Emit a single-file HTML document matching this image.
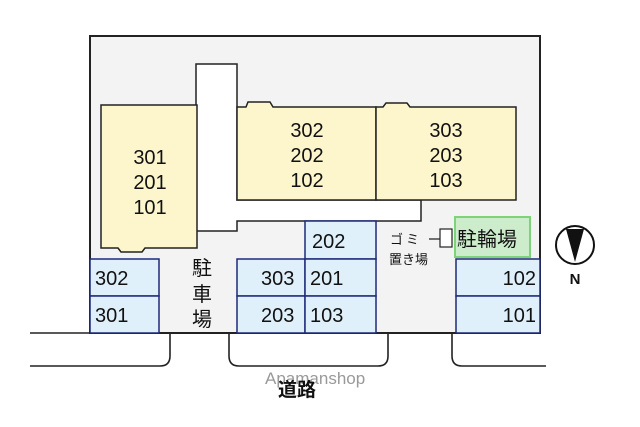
<!DOCTYPE html>
<html><head><meta charset="utf-8"><style>
html,body{margin:0;padding:0;background:#fff;width:640px;height:427px;overflow:hidden}
svg{display:block}
text{font-family:"Liberation Sans","Noto Sans CJK JP",sans-serif;fill:#111}
</style></head><body>
<svg width="640" height="427" viewBox="0 0 640 427" xmlns="http://www.w3.org/2000/svg">
<rect x="90" y="36" width="450" height="297" fill="#f3f3f3" stroke="#222" stroke-width="2"/>
<path d="M196 64 H237 V200 H421 V221 H237 V231 H196 Z" fill="#fff" stroke="#222" stroke-width="1.5"/>
<path d="M101 105 H197 V248 H145 L142 252 H121 L118 248 H101 Z" fill="#fdf6cc" stroke="#222" stroke-width="1.5"/>
<path d="M237 107 H246 L248 102 H270 L273 107 H376 V200 H237 Z" fill="#fdf6cc" stroke="#222" stroke-width="1.5"/>
<path d="M376 107 H383 L386 103 H407 L410 107 H516 V200 H376 Z" fill="#fdf6cc" stroke="#222" stroke-width="1.5"/>
<g font-size="20" text-anchor="middle">
<text x="150" y="164">301</text><text x="150" y="189">201</text><text x="150" y="214">101</text>
<text x="307" y="137">302</text><text x="307" y="162">202</text><text x="307" y="187">102</text>
<text x="446" y="137">303</text><text x="446" y="162">203</text><text x="446" y="187">103</text>
</g>
<g fill="#dff0fb" stroke="#1e2a7a" stroke-width="1.5">
<rect x="90" y="259" width="69" height="37"/><rect x="90" y="296" width="69" height="37"/>
<rect x="237" y="259" width="68" height="37"/><rect x="237" y="296" width="68" height="37"/>
<rect x="305" y="221" width="71" height="38"/><rect x="305" y="259" width="71" height="37"/><rect x="305" y="296" width="71" height="37"/>
<rect x="456" y="259" width="84" height="37"/><rect x="456" y="296" width="84" height="37"/>
</g>
<rect x="455" y="217" width="75" height="40" fill="#cdeccb" stroke="#7ed27a" stroke-width="2"/>
<g font-size="20">
<text x="95" y="285">302</text><text x="95" y="322">301</text>
<text x="261" y="285">303</text><text x="261" y="322">203</text>
<text x="312" y="248">202</text><text x="310" y="285">201</text><text x="310" y="322">103</text>
<text x="536" y="285" text-anchor="end">102</text><text x="536" y="322" text-anchor="end">101</text>
<text x="457" y="246">駐輪場</text>
</g>
<g font-size="20" text-anchor="middle"><text x="202" y="275">駐</text><text x="202" y="301">車</text><text x="202" y="326">場</text></g>
<text x="390" y="244" font-size="13" letter-spacing="3">ゴミ</text>
<text x="389" y="264" font-size="13">置き場</text>
<line x1="429" y1="239" x2="446" y2="239" stroke="#222" stroke-width="1.2"/>
<rect x="440" y="229" width="12" height="18" fill="#fff" stroke="#222" stroke-width="1.2"/>
<g fill="none" stroke="#222" stroke-width="1.6">
<line x1="30" y1="333" x2="90" y2="333"/>
<path d="M30 366 H160 Q170 366 170 356 V333"/>
<path d="M229 333 V356 Q229 366 239 366 H378 Q388 366 388 356 V333"/>
<path d="M452 333 V356 Q452 366 462 366 H546"/>
</g>
<text x="265" y="384" font-size="17" style="fill:#999">Apamanshop</text>
<text x="278" y="396" font-size="19" font-weight="bold">道路</text>
<circle cx="575" cy="245" r="19" fill="#fff" stroke="#111" stroke-width="2"/>
<path d="M566 229 H584 L575 262 Z" fill="#111"/>
<text x="575" y="284" font-size="15" font-weight="bold" text-anchor="middle">N</text>
</svg>
</body></html>
